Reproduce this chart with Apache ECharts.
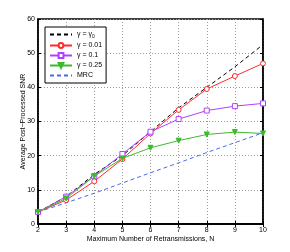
<!DOCTYPE html>
<html><head><meta charset="utf-8">
<script src="https://cdn.jsdelivr.net/npm/echarts@6/dist/echarts.min.js"></script>
<style>html,body{margin:0;padding:0;background:#fff}#c{width:290px;height:252px}</style>
</head><body><div id="c"></div>
<script>
var N = [2,3,4,5,6,7,8,9,10];
var gamma0 = [3.5,8,14.5,20,27,34,40,46,52.5];
var g001 = [3.5,7,12.5,19,26.5,33.4,39.5,43.3,47];
var g01 = [3.5,8,14,20.5,27,30.7,33.2,34.5,35.3];
var g025 = [3.5,7.5,14,19.2,22.3,24.4,26.2,26.9,26.5];
var mrc = [3.5,6.2,9,12,15,17.9,20.9,23.8,26.7];
var names = ['γ = γ0','γ = 0.01','γ = 0.1','γ = 0.25','MRC'];
function pts(a){return N.map(function(n,i){return [n,a[i]];});}
var font = 'Liberation Sans, Arial, sans-serif';
var chart = echarts.init(document.getElementById('c'));
var axisCommon = {
  axisLine:{show:true,lineStyle:{color:'#000',width:1.5}},
  axisTick:{show:true,inside:true,length:3,lineStyle:{color:'#000'}},
  splitLine:{show:true,lineStyle:{color:'#999',type:[1,2],width:1}}
};
function ser(name,data,color,sym,dash,fill,rot){
  return {name:name,type:'line',data:pts(data),symbol:sym,symbolSize:5,symbolRotate:rot||0,
    showSymbol:sym!=='none',
    lineStyle:{color:color,width:1,type:dash?[4,3]:'solid'},
    itemStyle:{color:fill?color:'#fff',borderColor:color,borderWidth:1},
    emphasis:{disabled:true},animation:false,z:3};
}
chart.setOption({
  animation:false,
  grid:{left:38,right:27,top:19,bottom:28,show:true,borderColor:'#000',borderWidth:1.5},
  legend:{show:true,orient:'vertical',left:45,top:27,itemWidth:22,itemHeight:6,itemGap:3,
    padding:[4,4,4,4],borderColor:'#000',borderWidth:1,backgroundColor:'#fff',
    textStyle:{fontSize:7,fontFamily:font,color:'#000',
      rich:{a:{fontSize:7,fontFamily:font},s:{fontSize:5,fontFamily:font,verticalAlign:'bottom',padding:[4,0,0,0]}}},
    formatter:function(n){return n==='γ = γ0'?'{a|γ = γ}{s|0}':'{a|'+n+'}';},
    data:[{name:names[0],itemStyle:{opacity:0}},names[1],names[2],names[3],{name:names[4],itemStyle:{opacity:0}}]},
  xAxis:[Object.assign({type:'value',min:2,max:10,interval:1,name:'Maximum Number of Retransmissions, N',
    nameLocation:'middle',nameGap:12,nameMoveOverlap:false,nameTextStyle:{fontSize:7,fontFamily:font,color:'#000'}},axisCommon,
    {axisLabel:{color:'#000',fontSize:7,fontFamily:font,margin:3}}),
    {type:'value',position:'top',min:2,max:10,interval:1,axisLine:{show:true,lineStyle:{color:'#000',width:1.5}},
    axisTick:{show:true,inside:true,length:3,lineStyle:{color:'#000'}},axisLabel:{show:false},splitLine:{show:false}}],
  yAxis:[Object.assign({type:'value',min:0,max:60,interval:10,name:'Average Post−Processed SNR',
    nameLocation:'middle',nameGap:11,nameMoveOverlap:false,nameTextStyle:{fontSize:7,fontFamily:font,color:'#000'}},axisCommon,
    {axisLabel:{color:'#000',fontSize:7,fontFamily:font,margin:3}}),
    {type:'value',position:'right',min:0,max:60,interval:10,axisLine:{show:true,lineStyle:{color:'#000',width:1.5}},
    axisTick:{show:true,inside:true,length:3,lineStyle:{color:'#000'}},axisLabel:{show:false},splitLine:{show:false}}],
  series:[
    ser(names[0],gamma0,'#000','none',true,false),
    ser(names[1],g001,'#ff2a2a','circle',false,false),
    ser(names[2],g01,'#b040ff','rect',false,false),
    ser(names[3],g025,'#3cba2c','triangle',false,true,180),
    ser(names[4],mrc,'#4a66f0','none',true,false)
  ]
});
</script></body></html>
